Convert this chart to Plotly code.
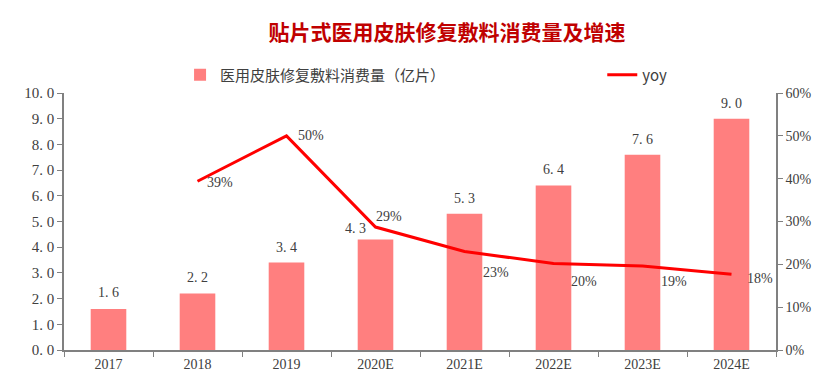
import plotly.graph_objects as go

categories = ["2017", "2018", "2019", "2020E", "2021E", "2022E", "2023E", "2024E"]
consumption = [1.6, 2.2, 3.4, 4.3, 5.3, 6.4, 7.6, 9.0]
yoy_years = ["2018", "2019", "2020E", "2021E", "2022E", "2023E", "2024E"]
yoy_values = [0.394, 0.500, 0.287, 0.230, 0.202, 0.196, 0.177]
yoy_labels = ["39%", "50%", "29%", "23%", "20%", "19%", "18%"]
left_ticks = [0, 1, 2, 3, 4, 5, 6, 7, 8, 9, 10]
right_ticks = [0, 0.1, 0.2, 0.3, 0.4, 0.5, 0.6]

title_text = "贴片式医用皮肤修复敷料消费量及增速"
bar_name = "医用皮肤修复敷料消费量（亿片）"
line_name = "yoy"

# label offsets (px)
bar_label_dx = [0, 0, 0, -20, 0, 0, 0, 0]
bar_label_dy = [16, 16, 15, 11, 15, 16, 15, 15]
label_dx = [22, 24, 13, 31, 30, 31, 28]
label_dy = [-1, 0, 11, -21, -18, -15, -4]

num_font = "Liberation Serif"
txt_color = "#404040"
axis_color = "#808080"

fig = go.Figure()
fig.add_trace(go.Bar(
    x=categories, y=consumption, name=bar_name,
    marker=dict(color="#FF7F7F", line=dict(width=0)),
    width=0.4,
    legend="legend",
))
fig.add_trace(go.Scatter(
    x=yoy_years, y=yoy_values, name=line_name, yaxis="y2",
    mode="lines", line=dict(color="#FF0000", width=3),
    legend="legend2",
))
for i, v in enumerate(consumption):
    fig.add_annotation(x=i, y=v, xref="x", yref="y", text=f"{v:.1f}".replace(".", ". "),
                       showarrow=False, yanchor="middle",
                       xshift=bar_label_dx[i], yshift=bar_label_dy[i],
                       font=dict(family=num_font, size=14, color=txt_color))
for xv, yv, lab, dx, dy in zip(yoy_years, yoy_values, yoy_labels, label_dx, label_dy):
    fig.add_annotation(x=categories.index(xv), y=yv, xref="x", yref="y2", text=lab, showarrow=False,
                       xshift=dx, yshift=dy,
                       font=dict(family=num_font, size=14, color=txt_color))

legend_common = dict(orientation="h", xanchor="left", yanchor="middle", y=1.07,
                     font=dict(family="Noto Sans CJK SC", size=15, color=txt_color),
                     bgcolor="rgba(0,0,0,0)", itemwidth=30)

fig.update_layout(
    width=830, height=385,
    margin=dict(l=56, r=62, t=85, b=43),
    paper_bgcolor="white", plot_bgcolor="white",
    title=dict(text="<b>" + title_text + "</b>", x=0.529, xanchor="center", y=0.935, yanchor="middle",
               font=dict(family="Noto Sans CJK SC", size=21, color="#C00000")),
    legend=dict(x=0.163, **legend_common),
    legend2=dict(x=0.756, **legend_common),
    showlegend=True,
    xaxis=dict(type="category", range=[-0.5, 7.5], showline=True, linecolor=axis_color, linewidth=1.5,
               ticks="outside", tickson="boundaries", ticklen=5, tickcolor=axis_color,
               tickfont=dict(family=num_font, size=14, color=txt_color), showgrid=False),
    yaxis=dict(range=[0, 10], tickvals=left_ticks,
               ticktext=[f"{v:.1f}".replace(".", ". ") for v in left_ticks],
               showline=True, linecolor=axis_color, linewidth=1.5,
               ticks="outside", ticklen=5, tickcolor=axis_color, showgrid=False, zeroline=False,
               tickfont=dict(family=num_font, size=15, color=txt_color)),
    yaxis2=dict(range=[0, 0.6], tickvals=right_ticks, tickformat=".0%", overlaying="y", side="right",
                showline=True, linecolor=axis_color, linewidth=1.5,
                ticks="outside", ticklen=5, tickcolor=axis_color, showgrid=False, zeroline=False,
                tickfont=dict(family=num_font, size=14, color=txt_color)),
)

fig.write_html("out.html")
